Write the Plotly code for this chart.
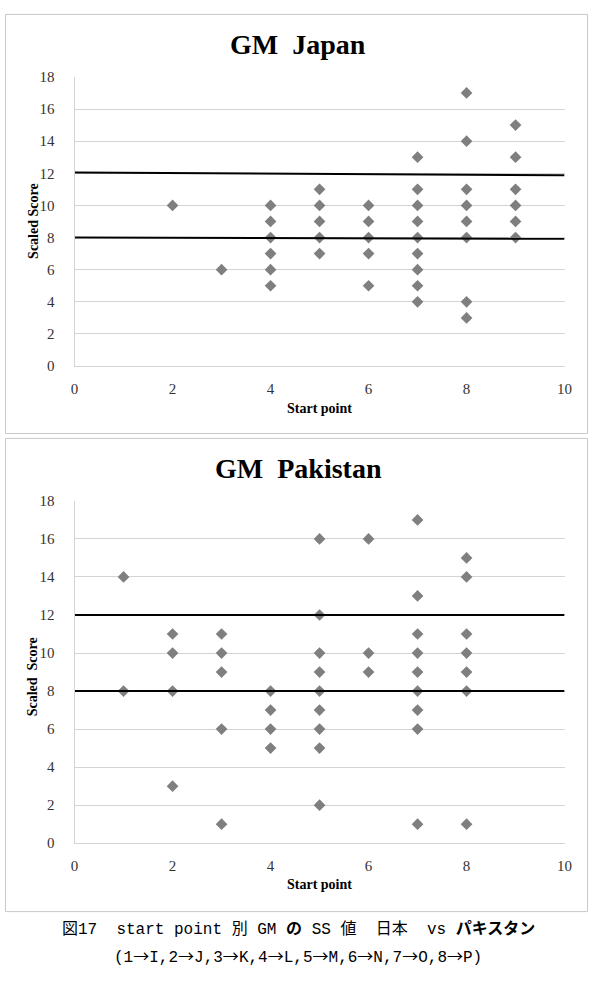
import plotly.graph_objects as go

W, H = 600, 986

# ---- data ----
jp_x = [2, 3,
        4, 4, 4, 4, 4, 4,
        5, 5, 5, 5, 5,
        6, 6, 6, 6, 6,
        7, 7, 7, 7, 7, 7, 7, 7, 7,
        8, 8, 8, 8, 8, 8, 8, 8,
        9, 9, 9, 9, 9, 9]
jp_y = [10, 6,
        10, 9, 8, 7, 6, 5,
        11, 10, 9, 8, 7,
        10, 9, 8, 7, 5,
        13, 11, 10, 9, 8, 7, 6, 5, 4,
        17, 14, 11, 10, 9, 8, 4, 3,
        15, 13, 11, 10, 9, 8]
jp_line_x = [0, 10]
jp_upper_y = [12.05, 11.88]
jp_lower_y = [8.01, 7.92]

pk_x = [1, 1,
        2, 2, 2, 2,
        3, 3, 3, 3, 3,
        4, 4, 4, 4,
        5, 5, 5, 5, 5, 5, 5, 5, 5,
        6, 6, 6,
        7, 7, 7, 7, 7, 7, 7, 7, 7,
        8, 8, 8, 8, 8, 8, 8]
pk_y = [14, 8,
        11, 10, 8, 3,
        11, 10, 9, 6, 1,
        8, 7, 6, 5,
        16, 12, 10, 9, 8, 7, 6, 5, 2,
        16, 10, 9,
        17, 13, 11, 10, 9, 8, 7, 6, 1,
        15, 14, 11, 10, 9, 8, 1]
pk_line_x = [0, 10]
pk_upper_y = [12, 12]
pk_lower_y = [8, 8]

x_ticks = [0, 2, 4, 6, 8, 10]
y_ticks = [0, 2, 4, 6, 8, 10, 12, 14, 16, 18]

SERIF = "Liberation Serif, DejaVu Serif, serif"
MARK = "#7f7f7f"
GRID = "#d4d4d4"


def py(p):
    return 1 - p / H


def px(p):
    return p / W


fig = go.Figure()

marker = dict(symbol="diamond", size=9, color=MARK)
fig.add_trace(go.Scatter(x=jp_x, y=jp_y, mode="markers", marker=marker,
                         xaxis="x", yaxis="y", showlegend=False))
fig.add_trace(go.Scatter(x=jp_line_x, y=jp_upper_y, mode="lines",
                         line=dict(color="black", width=2), xaxis="x", yaxis="y", showlegend=False))
fig.add_trace(go.Scatter(x=jp_line_x, y=jp_lower_y, mode="lines",
                         line=dict(color="black", width=2), xaxis="x", yaxis="y", showlegend=False))

fig.add_trace(go.Scatter(x=pk_x, y=pk_y, mode="markers", marker=marker,
                         xaxis="x2", yaxis="y2", showlegend=False))
fig.add_trace(go.Scatter(x=pk_line_x, y=pk_upper_y, mode="lines",
                         line=dict(color="black", width=2), xaxis="x2", yaxis="y2", showlegend=False))
fig.add_trace(go.Scatter(x=pk_line_x, y=pk_lower_y, mode="lines",
                         line=dict(color="black", width=2), xaxis="x2", yaxis="y2", showlegend=False))

tickfont = dict(family=SERIF, size=15, color="#333")

xcommon = dict(range=[0, 10], tickvals=x_ticks, showgrid=False, zeroline=False,
               showline=True, linecolor=GRID, linewidth=1, tickfont=tickfont,
               ticks="", ticklabelstandoff=9, fixedrange=True)
ycommon = dict(range=[0, 18], tickvals=y_ticks, showgrid=True, gridcolor=GRID,
               gridwidth=1, zeroline=False, showline=True, linecolor=GRID,
               linewidth=1, tickfont=tickfont, ticks="", ticklabelstandoff=16,
               fixedrange=True)

fig.update_layout(
    width=W, height=H,
    margin=dict(l=0, r=0, t=0, b=0),
    paper_bgcolor="white", plot_bgcolor="white",
    xaxis=dict(domain=[px(72), px(572)], anchor="y", **xcommon),
    yaxis=dict(domain=[py(364), py(70)], anchor="x", **ycommon),
    xaxis2=dict(domain=[px(72), px(572)], anchor="y2", **xcommon),
    yaxis2=dict(domain=[py(849), py(501)], anchor="x2", **ycommon),
)

# chart frames
for (t, b) in [(6.5, 432.5), (437.5, 918.5)]:
    fig.add_shape(type="rect", xref="paper", yref="paper",
                  x0=px(1.5), x1=px(595.5), y0=py(b), y1=py(t),
                  line=dict(color="#c8c8c8", width=1), fillcolor="rgba(0,0,0,0)")

ann = []
ann.append(dict(text="<b>GM  Japan</b>", x=0.5, y=py(37), xref="paper", yref="paper",
                showarrow=False, font=dict(family=SERIF, size=28, color="black"),
                xanchor="center", yanchor="middle"))
ann.append(dict(text="<b>GM  Pakistan</b>", x=0.5, y=py(468), xref="paper", yref="paper",
                showarrow=False, font=dict(family=SERIF, size=28, color="black"),
                xanchor="center", yanchor="middle"))
axfont = dict(family=SERIF, size=14, color="black")
ann.append(dict(text="<b>Start point</b>", x=px(322), y=py(407), xref="paper", yref="paper",
                showarrow=False, font=axfont, xanchor="center", yanchor="middle"))
ann.append(dict(text="<b>Start point</b>", x=px(322), y=py(891), xref="paper", yref="paper",
                showarrow=False, font=axfont, xanchor="center", yanchor="middle"))
ann.append(dict(text="<b>Scaled Score</b>", x=px(30), y=py(216), xref="paper", yref="paper",
                showarrow=False, font=axfont, textangle=-90, xanchor="center", yanchor="middle"))
ann.append(dict(text="<b>Scaled  Score</b>", x=px(30), y=py(680), xref="paper", yref="paper",
                showarrow=False, font=axfont, textangle=-90, xanchor="center", yanchor="middle"))

CAP = "Liberation Mono, Noto Sans CJK JP, monospace"
ARW = '<span style="font-family:Noto Sans CJK JP">→</span>'
line2 = "(" + ",".join(f"{i}{ARW}{c}" for i, c in zip(range(1, 9), "IJKLMNOP")) + ")"
ann.append(dict(text="図17  start point 別 GM <b>の</b> SS 値  日本  vs <b>パキスタン</b>",
                x=0.5, y=py(937), xref="paper", yref="paper", showarrow=False,
                font=dict(family=CAP, size=16, color="black"),
                xanchor="center", yanchor="middle"))
ann.append(dict(text=line2,
                x=0.5, y=py(963), xref="paper", yref="paper", showarrow=False,
                font=dict(family=CAP, size=16, color="black"),
                xanchor="center", yanchor="middle"))
fig.update_layout(annotations=ann)

fig.write_html("out.html")
